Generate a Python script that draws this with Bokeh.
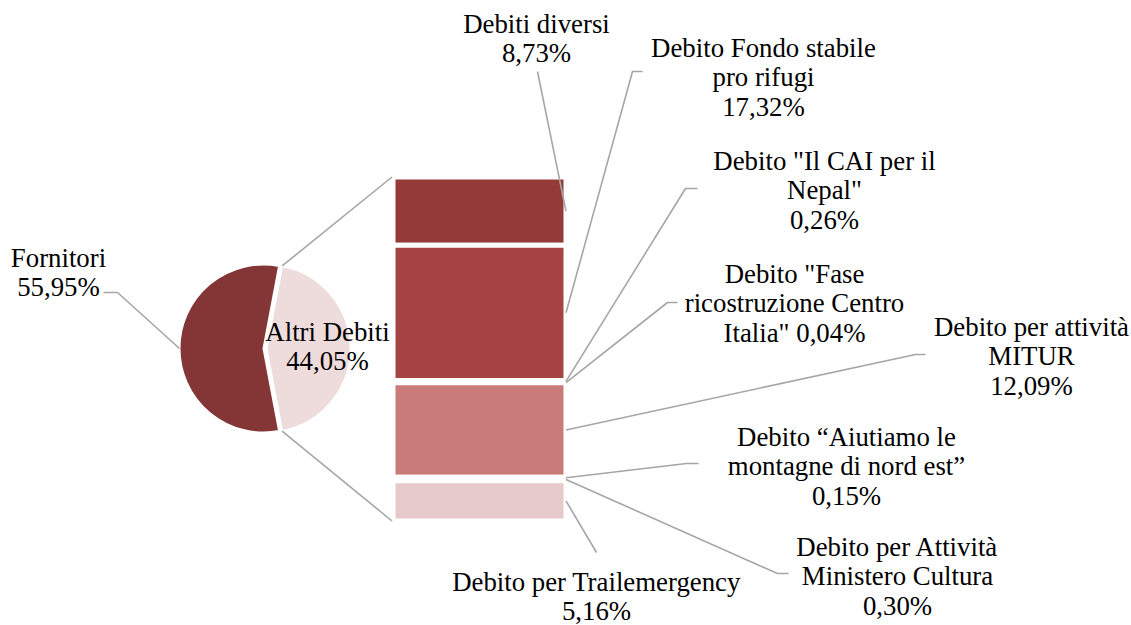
import math
from bokeh.plotting import figure
from bokeh.models import Range1d
from bokeh.core.properties import value
from bokeh.embed import file_html
from bokeh.resources import INLINE

# ---------------- data ----------------
pie_categories = ["Fornitori", "Altri Debiti"]
pie_values = [55.95, 44.05]

bar_categories = [
    "Debiti diversi",
    "Debito Fondo stabile pro rifugi",
    'Debito "Il CAI per il Nepal"',
    'Debito "Fase ricostruzione Centro Italia"',
    "Debito per attività MITUR",
    "Debito “Aiutiamo le montagne di nord est”",
    "Debito per Attività Ministero Cultura",
    "Debito per Trailemergency",
]
bar_values = [8.73, 17.32, 0.26, 0.04, 12.09, 0.15, 0.30, 5.16]

# ---------------- styles / layout ----------------
pie_colors = ["#843535", "#EEDCDC"]
bar_colors = ["#943B3A", "#A64443", "#B45352", "#BE6665", "#C97B7A", "#D49A99", "#DDB2B1", "#E6CACA"]
FONT = "Liberation Serif"
FS = "26.8px"
LH = 29.5
GREY = "#A6A6A6"

W, H = 1131, 625
p = figure(width=W, height=H, output_backend="svg", toolbar_location=None,
           x_range=Range1d(0, W), y_range=Range1d(-H, 0),
           min_border=0, outline_line_color=None)
p.axis.visible = False
p.grid.visible = False
p.background_fill_color = "white"

# pie
cx, cy, r = 263, -348, 84
explode = 3
half = math.radians(pie_values[1] / sum(pie_values) * 360 / 2)
p.wedge(x=cx, y=cy, radius=r, start_angle=half, end_angle=2 * math.pi - half,
        fill_color=pie_colors[0], line_color="white", line_width=2)
p.wedge(x=cx + explode, y=cy, radius=r, start_angle=-half, end_angle=half,
        fill_color=pie_colors[1], line_color="white", line_width=2)

# bar (stacked, top to bottom)
bar_left, bar_right = 392.5, 565.5
bar_top_px, bar_total_px = 176.5, 344.0
scale = bar_total_px / sum(bar_values)
tops, bottoms, mids = [], [], []
acc = bar_top_px
for v in bar_values:
    tops.append(-acc)
    mids.append(acc + v * scale / 2)
    acc += v * scale
    bottoms.append(-acc)
p.quad(left=bar_left, right=bar_right, top=tops, bottom=bottoms,
       fill_color=bar_colors, line_color="white", line_width=5)

# pie-to-bar connectors
corner_x = cx + explode + r * math.cos(half)
p.line([corner_x, bar_left - 1], [cy + r * math.sin(half), tops[0]], line_color=GREY, line_width=1.6)
p.line([corner_x, bar_left - 1], [cy - r * math.sin(half), bottoms[-1]], line_color=GREY, line_width=1.6)

# labels
def pct(v):
    return f"{v:.2f}".replace(".", ",") + "%"

def wrap(name, counts):
    words = name.split(" ")
    lines, i = [], 0
    for c in counts:
        lines.append(" ".join(words[i:i + c]))
        i += c
    return lines

# (center x, first-line y, word counts per line, pct inline, leader points [(x,Y),...])
bar_label_layout = [
    (536, 23, [2], False, [(537, 71)]),
    (763, 47, [3, 2], False, [(632, 71), (642, 71)]),
    (824, 160, [5, 1], False, [(685, 188), (697, 188)]),
    (794, 273, [2, 2, 1], True, [(667, 302), (677, 302)]),
    (1031, 326, [3, 1], False, [(915, 354), (925, 354)]),
    (846, 436, [3, 4], False, [(686, 463), (698, 463)]),
    (897, 546, [3, 2], False, [(777, 573), (788, 573)]),
    (596, 581, [3], False, [(596, 552)]),
]

def draw_label(xc, y0, lines):
    for k, t in enumerate(lines):
        p.text(x=[xc], y=[-(y0 + k * LH)], text=[t], text_font=value(FONT),
               text_font_size=FS, text_align="center", text_baseline="middle",
               text_color="#000000")

for name, v, mid, (xc, y0, counts, inline, pts) in zip(bar_categories, bar_values, mids, bar_label_layout):
    lines = wrap(name, counts)
    if inline:
        lines[-1] = lines[-1] + " " + pct(v)
    else:
        lines.append(pct(v))
    draw_label(xc, y0, lines)
    xs = [bar_right] + [q[0] for q in pts]
    ys = [-mid] + [-q[1] for q in pts]
    p.line(xs, ys, line_color=GREY, line_width=1.6)

# pie labels
draw_label(58, 257, [pie_categories[0], pct(pie_values[0])])
p.line([103, 117, cx - r], [-292, -292, cy], line_color=GREY, line_width=1.6)
draw_label(327, 331, wrap(pie_categories[1], [2]) + [pct(pie_values[1])])

open("out.html", "w").write(file_html(p, INLINE))
